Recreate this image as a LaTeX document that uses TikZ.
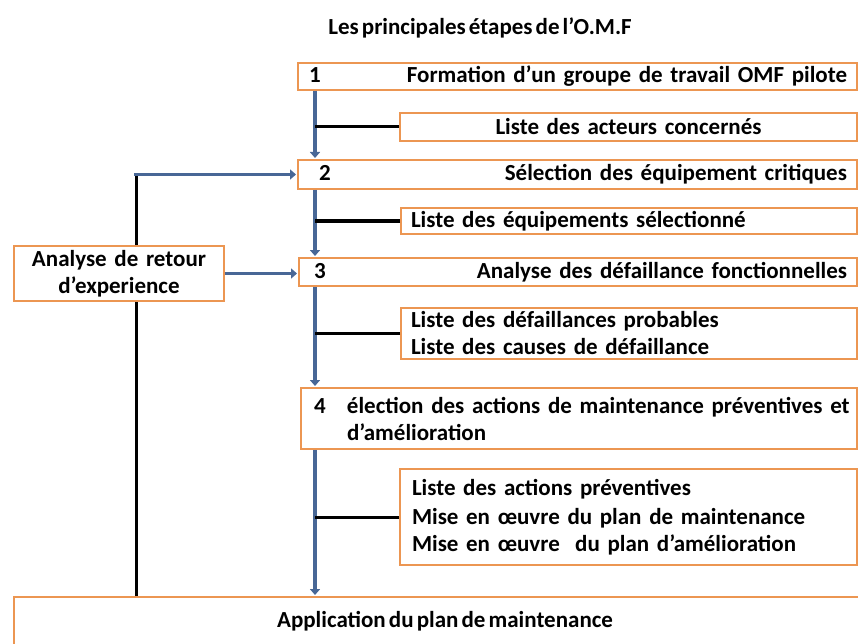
\documentclass[tikz,border=0pt]{standalone}
\usepackage{fontspec}
\setmainfont{Carlito}[WordSpace=0.6]
\usetikzlibrary{arrows.meta}
\definecolor{boxorange}{RGB}{236,150,82}
\definecolor{flowblue}{RGB}{72,103,150}
\tikzset{
  stepbox/.style={draw=boxorange, line width=2pt, fill=white, inner xsep=10pt, inner ysep=0pt,
    font=\bfseries\fontsize{23}{27}\selectfont, anchor=north west},
  flow/.style={draw=flowblue, line width=3.8pt, -{Triangle[length=6pt,width=10pt]}, shorten >=1pt},
  stub/.style={draw=black, line width=3pt},
}
% box of given width and height, placed by its top left corner
\newcommand{\stepnode}[7][]{%
  \node[stepbox, minimum width=#5pt, minimum height=#6pt, text width=#5pt-20pt, #1] (#2) at (#3,#4) {#7};}
\begin{document}
\begin{tikzpicture}[x=1pt,y=-1pt]
\useasboundingbox (0,0) rectangle (858,644);
\clip (0,0) rectangle (858,644);
\fill[white] (0,0) rectangle (858,644);

\node[font=\bfseries\fontsize{23}{27}\selectfont] (title) at (480,28) {Les principales étapes de l’O.M.F};

% main steps
\stepnode{b1}{297}{62}{559}{27}{\hspace{1pt}1\hfill Formation d’un groupe de travail OMF pilote}
\stepnode[align=center]{l1}{399}{112}{457}{28}{Liste des acteurs concernés}
\stepnode{b2}{297}{159}{559}{29}{\hspace{11pt}2\hfill Sélection des équipement critiques}
\stepnode{l2}{400}{207}{456}{26}{Liste des équipements sélectionné}
\stepnode{b3}{298}{257}{558}{28}{\hspace{5pt}3\hfill Analyse des défaillance fonctionnelles}
\stepnode[align=left]{l3}{400}{307}{456}{51}{Liste des défaillances probables\\Liste des causes de défaillance}
\stepnode[align=left]{b4}{300}{387}{556}{61}{\hspace{3pt}\makebox[33pt][l]{4}\mbox{élection des actions de maintenance préventives et}\\\hspace{36pt}d’amélioration}
\stepnode[align=left]{l4}{399}{468}{457}{96}{\fontsize{23}{28.5}\selectfont\hspace{2pt}Liste des actions préventives\\\hspace{2pt}Mise en œuvre du plan de maintenance\\\hspace{2pt}Mise en œuvre~~du plan d’amélioration}
\stepnode{app}{13}{596}{870}{70}{}
\node[font=\bfseries\fontsize{23}{27}\selectfont] (apptxt) at (445,621) {Application du plan de maintenance};

% feedback box
\stepnode[align=center, inner xsep=4pt]{ret}{13}{245}{210}{55}{\fontsize{23}{25}\selectfont Analyse de retour\\d’experience}

% spine and feedback line positions
\coordinate (spine) at (315,0);
\coordinate (back) at (136,0);

% vertical flow between steps
\draw[flow] (b1.south -| spine) -- (b2.north -| spine);
\draw[flow] (b2.south -| spine) -- (b3.north -| spine);
\draw[flow] (b3.south -| spine) -- (b4.north -| spine);
\draw[flow] (b4.south -| spine) -- (app.north -| spine);

% outputs attached to the flow
\draw[stub] (l1.west) -- (l1.west -| spine);
\draw[stub] (l2.west) -- (l2.west -| spine);
\draw[stub] (l3.west) -- (l3.west -| spine);
\draw[stub] (l4.west) -- (l4.west -| spine);

% feedback loop
\draw[stub] (app.north -| back) -- (ret.south -| back);
\draw[stub] (ret.north -| back) -- ([yshift=-2pt]back |- b2.west);
\draw[flow] ([xshift=-1.9pt]back |- b2.west) -- (b2.west);
\draw[flow] (ret.east) -- (b3.west |- ret.east);
\end{tikzpicture}
\end{document}
